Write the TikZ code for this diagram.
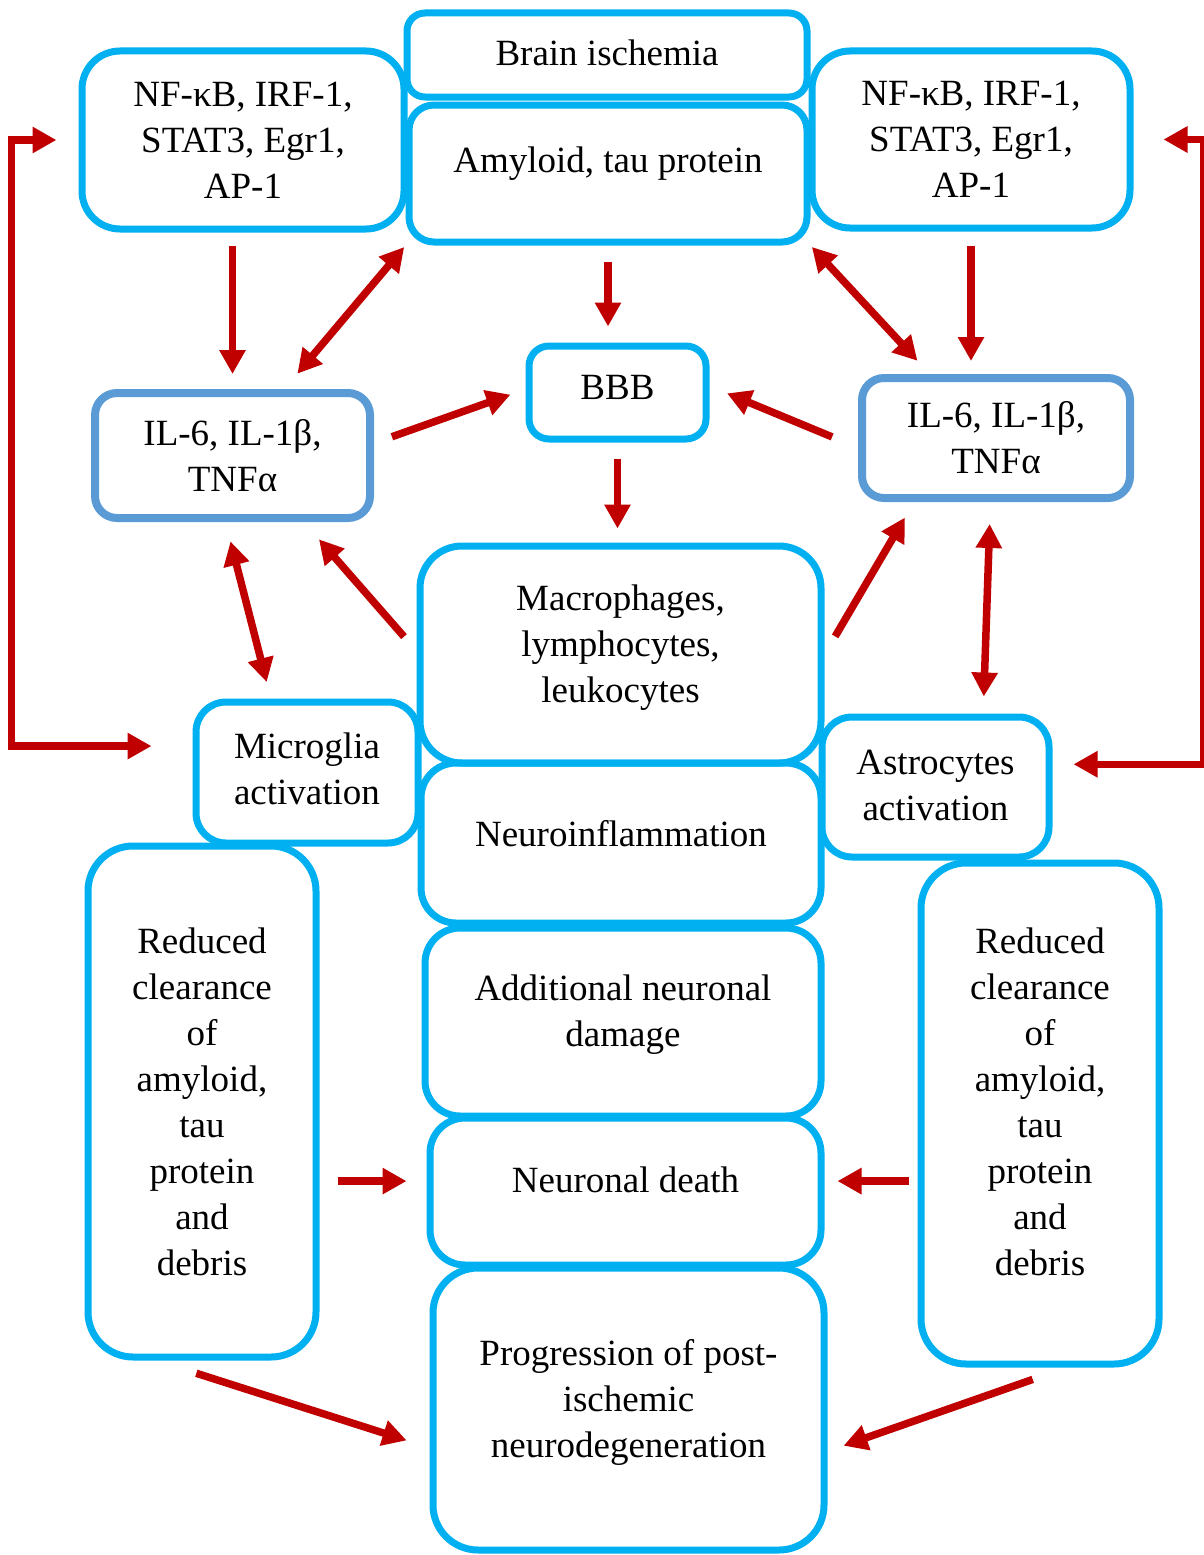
\documentclass[tikz,border=0pt]{standalone}
\usepackage{fontspec}
\setmainfont{Liberation Serif}
\usetikzlibrary{arrows.meta}
\definecolor{boxblue}{HTML}{00B0F0}
\definecolor{cytblue}{HTML}{5B9BD5}
\definecolor{arrred}{HTML}{C00000}
\newcommand{\lift}[1]{\rule[-#1]{0pt}{#1}}
\begin{document}
\begin{tikzpicture}[x=1pt, y=-1pt,
        font=\fontsize{37}{46}\selectfont,
        box/.style={draw=boxblue, line width=7pt, rounded corners=#1, align=center, inner sep=0pt},
        box/.default=30pt,
        cytbox/.style={box=22pt, draw=cytblue, line width=8pt},
        arr/.style={draw=arrred, line width=7.5pt, -{Triangle[length=24pt,width=25pt]}},
        darr/.style={arr, {Triangle[length=24pt,width=25pt]}-{Triangle[length=24pt,width=25pt]}}]
    \useasboundingbox (0,0) rectangle (1203,1555);
    \node[box=18pt, minimum width=400pt, minimum height=84pt] (brain) at (607,55) {Brain ischemia\lift{4pt}};
    \node[box=25pt, minimum width=398pt, minimum height=137pt] (amy) at (608,173.5) {Amyloid, tau protein\lift{28pt}};
    \node[box=38pt, minimum width=322pt, minimum height=178pt] (nfL) at (243,140) {NF-κB, IRF-1,\\ STAT3, Egr1,\\ AP-1};
    \node[box=38pt, minimum width=318pt, minimum height=177pt] (nfR) at (971,139.5) {NF-κB, IRF-1,\\ STAT3, Egr1,\\ AP-1};
    \node[cytbox, minimum width=275pt, minimum height=125pt] (ilL) at (232.5,455.5) {IL-6, IL-1β,\\ TNFα};
    \node[cytbox, minimum width=268pt, minimum height=120pt] (ilR) at (996,438) {IL-6, IL-1β,\\ TNFα};
    \node[box=20pt, minimum width=177pt, minimum height=93pt] (bbb) at (617.5,392.5) {BBB\lift{10pt}};
    \node[box=42pt, minimum width=401pt, minimum height=217pt] (mac) at (620.5,654.5) {Macrophages,\\ lymphocytes,\\ leukocytes\lift{22pt}};
    \node[box, minimum width=222pt, minimum height=141pt] (mic) at (307,772.5) {Microglia\\ activation\lift{8pt}};
    \node[box, minimum width=227pt, minimum height=140pt] (ast) at (935.5,787) {Astrocytes\\ activation\lift{4pt}};
    \node[box=35pt, minimum width=400pt, minimum height=160pt] (neu) at (621,843) {Neuroinflammation\lift{20pt}};
    \node[box=45pt, minimum width=228pt, minimum height=511pt] (redL) at (202,1101.5) {Reduced\\ clearance\\ of\\ amyloid,\\ tau\\ protein\\ and\\ debris};
    \node[box=45pt, minimum width=238pt, minimum height=501pt] (redR) at (1040,1113.5) {Reduced\\ clearance\\ of\\ amyloid,\\ tau\\ protein\\ and\\ debris\lift{24pt}};
    \node[box=35pt, minimum width=396pt, minimum height=188pt] (add) at (623,1022) {Additional neuronal\\ damage\lift{22pt}};
    \node[box=35pt, minimum width=391pt, minimum height=147pt] (death) at (625.5,1191.5) {Neuronal death\lift{24pt}};
    \node[box=45pt, minimum width=391pt, minimum height=282pt] (prog) at (628.5,1409) {Progression of post-\\ ischemic\\ neurodegeneration\lift{22pt}};
    % top row
    \draw[arr, shorten <=13pt, shorten >=15pt] (nfL.south -| ilL.north) -- (ilL.north);
    \draw[arr, shorten <=14pt, shorten >=13pt] (nfR.south) -- (nfR.south |- ilR.north);
    \draw[arr, shorten <=16pt, shorten >=16pt] (amy.south) -- (amy.south |- bbb.north);
    \draw[darr, shorten <=20pt, shorten >=2pt] (ilL.52) -- (amy.south west);
    \draw[darr, shorten <=2pt, shorten >=18pt] (amy.south east) -- (ilR.136);
    % around BBB
    \draw[arr, shorten <=19pt, shorten >=16pt] (ilL.5) -- (bbb.178);
    \draw[arr, shorten <=28pt, shorten >=19pt] (ilR.184) -- (bbb.4);
    \draw[arr, shorten <=16pt, shorten >=14pt] (bbb.south) -- (bbb.south |- mac.north);
    \draw[arr, shorten <=19pt, shorten >=23pt] (mac.179) -- (ilL.-43);
    \draw[arr, shorten <=21pt, shorten >=18pt] (mac.east) -- (ilR.218);
    \draw[darr, shorten <=20pt, shorten >=17pt] (ilL.264) -- (mic.116);
    \draw[darr, shorten <=22pt, shorten >=17pt] (ilR.265) -- (ast.57);
    % feedback loops
    \draw[darr, shorten <=22pt, shorten >=41pt] (nfL.west) -- ++(-67,0) |- (mic.167);
    \draw[darr, shorten <=30pt, shorten >=21pt] (nfR.east) -- ++(70,0) |- (ast.11);
    % bottom
    \draw[arr, shorten <=18pt, shorten >=20pt] (redL.east |- death.177) -- (death.177);
    \draw[arr, shorten <=9pt, shorten >=13pt] (redR.west |- death.3) -- (death.3);
    \draw[arr, shorten <=42pt, shorten >=24pt] (redL.260) -- (prog.191);
    \draw[arr, shorten <=36pt, shorten >=17pt] (redR.276) -- (prog.348);
\end{tikzpicture}
\end{document}
